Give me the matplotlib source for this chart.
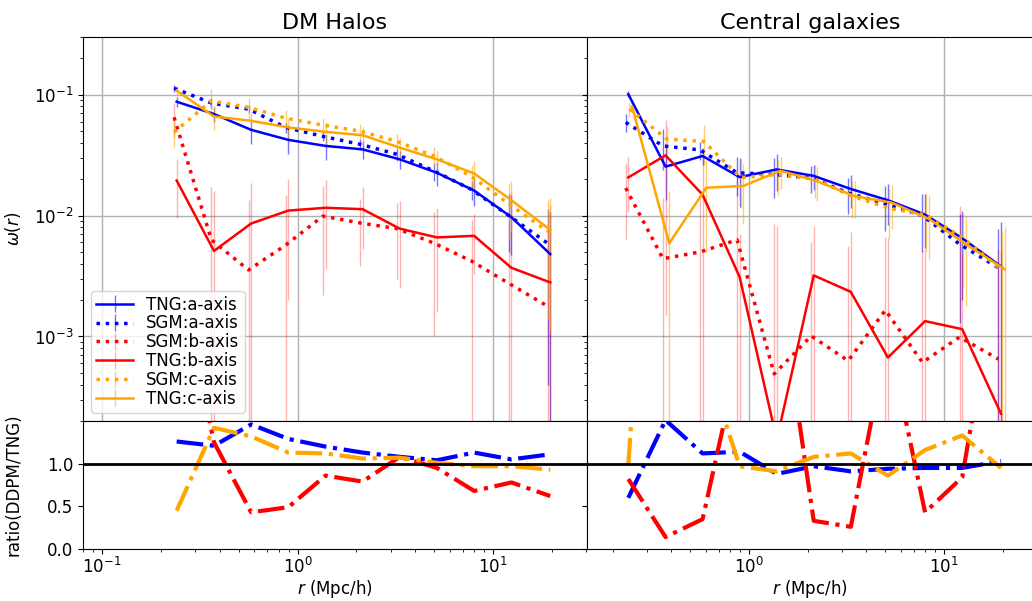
import matplotlib.pyplot as plt
from matplotlib.colors import to_rgba
import numpy as np

plt.rcParams.update({"font.size": 12})

# radial bins (Mpc/h), same for both samples
r = np.array([0.241, 0.374, 0.579, 0.897, 1.39, 2.15, 3.33, 5.16, 8.0, 12.4, 19.6])

# ---- DM halos ----
halo_tng_a = [0.0875, 0.0692, 0.0512, 0.0423, 0.0377, 0.0353, 0.0292, 0.0226, 0.0161, 0.0097, 0.0048]
halo_tng_a_err = [0.008, 0.010, 0.012, 0.010, 0.009, 0.006, 0.005, 0.005, 0.004, 0.005, 0.006]
halo_sgm_a = [0.113, 0.0853, 0.076, 0.0536, 0.0452, 0.0389, 0.0321, 0.0233, 0.0164, 0.0100, 0.0059]
halo_sgm_a_err = [0.008, 0.008, 0.006, 0.005, 0.004, 0.004, 0.004, 0.004, 0.003, 0.005, 0.0055]
halo_sgm_b = [0.065, 0.0063, 0.00355, 0.0057, 0.0099, 0.0087, 0.0078, 0.0059, 0.0042, 0.00275, 0.00178]
halo_sgm_b_err = [0.02, 0.011, 0.010, 0.009, 0.0077, 0.0049, 0.0048, 0.0049, 0.005, 0.006, 0.006]
halo_tng_b = [0.0195, 0.0051, 0.0086, 0.011, 0.0116, 0.0113, 0.0078, 0.0066, 0.0068, 0.0037, 0.0028]
halo_tng_b_err = [0.010, 0.011, 0.010, 0.009, 0.008, 0.006, 0.0053, 0.005, 0.0035, 0.012, 0.0095]
halo_sgm_c = [0.049, 0.089, 0.0785, 0.064, 0.056, 0.050, 0.041, 0.031, 0.021, 0.0125, 0.0074]
halo_sgm_c_err = [0.012, 0.022, 0.015, 0.010, 0.008, 0.007, 0.006, 0.006, 0.005, 0.006, 0.006]
halo_tng_c = [0.108, 0.066, 0.0608, 0.0536, 0.0493, 0.0462, 0.0365, 0.0292, 0.0223, 0.0134, 0.0076]
halo_tng_c_err = [0.010, 0.015, 0.010, 0.010, 0.010, 0.008, 0.007, 0.006, 0.006, 0.006, 0.0065]

halo_ratio_a = [1.26, 1.21, 1.46, 1.29, 1.20, 1.13, 1.08, 1.04, 1.13, 1.05, 1.11]
halo_ratio_b = [3.3, 1.25, 0.43, 0.49, 0.86, 0.79, 1.08, 0.95, 0.68, 0.78, 0.62]
halo_ratio_c = [0.45, 1.42, 1.32, 1.13, 1.12, 1.06, 1.07, 1.01, 0.97, 0.97, 0.93]

# ---- central galaxies ----
gal_tng_a = [0.101, 0.0254, 0.0311, 0.0208, 0.0241, 0.0213, 0.0166, 0.0134, 0.0102, 0.0065, 0.0038]
gal_tng_a_err = [0.006, 0.012, 0.005, 0.009, 0.008, 0.005, 0.005, 0.005, 0.0048, 0.0045, 0.005]
gal_sgm_a = [0.059, 0.0377, 0.0349, 0.0226, 0.0219, 0.0205, 0.0154, 0.0125, 0.0100, 0.0058, 0.0037]
gal_sgm_a_err = [0.010, 0.014, 0.006, 0.008, 0.008, 0.005, 0.005, 0.005, 0.005, 0.0045, 0.004]
gal_sgm_b = [0.0169, 0.0044, 0.0050, 0.0063, 0.00049, 0.00101, 0.00063, 0.00165, 0.00061, 0.00099, 0.00065]
gal_sgm_b_err = [0.0105, 0.0097, 0.010, 0.015, 0.008, 0.005, 0.005, 0.005, 0.0046, 0.011, 0.0045]
gal_tng_b = [0.0207, 0.0315, 0.0149, 0.0031, 0.00014, 0.0032, 0.00234, 0.00067, 0.00134, 0.00115, 0.00023]
gal_tng_b_err = [0.010, 0.030, 0.016, 0.004, 0.008, 0.005, 0.005, 0.006, 0.004, 0.0038, 0.0048]
gal_sgm_c = [0.076, 0.043, 0.041, 0.0206, 0.0219, 0.020, 0.0145, 0.0115, 0.0101, 0.0065, 0.0035]
gal_sgm_c_err = [0.010, 0.012, 0.015, 0.009, 0.007, 0.006, 0.005, 0.005, 0.005, 0.004, 0.004]
gal_tng_c = [0.080, 0.0059, 0.017, 0.0176, 0.0235, 0.0192, 0.0145, 0.0128, 0.0094, 0.0058, 0.0036]
gal_tng_c_err = [0.010, 0.010, 0.012, 0.009, 0.007, 0.006, 0.005, 0.005, 0.005, 0.004, 0.0045]

gal_ratio_a = [0.60, 1.51, 1.12, 1.14, 0.88, 0.97, 0.91, 0.94, 0.95, 0.95, 1.03]
gal_ratio_b = [0.82, 0.14, 0.35, 2.3, 3.3, 0.33, 0.26, 2.5, 0.43, 0.84, 3.5]
gal_ratio_c = [0.99, 7.3, 2.3, 0.97, 0.91, 1.08, 1.12, 0.86, 1.16, 1.33, 0.95]

W, H = 1032, 601
fig = plt.figure(figsize=(W / 100, H / 100), dpi=100)


def box(x0, y0, x1, y1):
    return [x0 / W, 1 - y1 / H, (x1 - x0) / W, (y1 - y0) / H]


ax_h = fig.add_axes(box(83, 37, 587, 421))
ax_hr = fig.add_axes(box(83, 421, 587, 549))
ax_g = fig.add_axes(box(587, 37, 1033, 421))
ax_gr = fig.add_axes(box(587, 421, 1033, 549))


def draw_top(ax, series, c_shift):
    for label, x, y, err, color, ls in series:
        if label.endswith("c-axis"):
            x = x * c_shift
        alpha = 0.3 if color == "red" else 0.55
        eb = ax.errorbar(x, y, yerr=err, color=color, ls=ls,
                         lw=2.5 if ls == ":" else 1.8,
                         ecolor=to_rgba(color, alpha), elinewidth=1, label=label)
        for col in eb[2]:
            col.set_linestyle("-")
    ax.set_xscale("log")
    ax.set_yscale("log")
    ax.set_ylim(2.0e-4, 0.30)
    ax.grid(True, which="major", color="#b0b0b0", lw=1)
    ax.tick_params(labelbottom=False)


rs = r * 0.97
halo_series = [
    ("TNG:a-axis", r, halo_tng_a, halo_tng_a_err, "blue", "-"),
    ("SGM:a-axis", rs, halo_sgm_a, halo_sgm_a_err, "blue", ":"),
    ("SGM:b-axis", rs, halo_sgm_b, halo_sgm_b_err, "red", ":"),
    ("TNG:b-axis", r, halo_tng_b, halo_tng_b_err, "red", "-"),
    ("SGM:c-axis", rs, halo_sgm_c, halo_sgm_c_err, "orange", ":"),
    ("TNG:c-axis", r, halo_tng_c, halo_tng_c_err, "orange", "-"),
]
gal_series = [
    ("TNG:a-axis", r, gal_tng_a, gal_tng_a_err, "blue", "-"),
    ("SGM:a-axis", rs, gal_sgm_a, gal_sgm_a_err, "blue", ":"),
    ("SGM:b-axis", rs, gal_sgm_b, gal_sgm_b_err, "red", ":"),
    ("TNG:b-axis", r, gal_tng_b, gal_tng_b_err, "red", "-"),
    ("SGM:c-axis", rs, gal_sgm_c, gal_sgm_c_err, "orange", ":"),
    ("TNG:c-axis", r, gal_tng_c, gal_tng_c_err, "orange", "-"),
]

draw_top(ax_h, halo_series, 1.0)
draw_top(ax_g, gal_series, 1.045)
ax_h.set_xlim(0.080, 30.2)
ax_g.set_xlim(0.148, 28.6)
ax_g.tick_params(labelleft=False)
ax_h.set_ylabel(r"$\omega(r)$")
ax_h.set_title("DM Halos", fontsize=16)
ax_g.set_title("Central galaxies", fontsize=16)
ax_h.legend(loc="lower left", fontsize=12, handlelength=2.2,
            borderpad=0.3, labelspacing=0.05, handletextpad=0.8)


def draw_ratio(ax, ra, rb, rc):
    ax.plot(r, ra, color="blue", ls="-.", lw=3)
    ax.plot(r, rb, color="red", ls="-.", lw=3)
    ax.plot(r, rc, color="orange", ls="-.", lw=3)
    ax.axhline(1.0, color="black", lw=2)
    ax.set_xscale("log")
    ax.set_ylim(0, 1.5)
    ax.set_yticks([0.0, 0.5, 1.0])
    ax.tick_params(axis="x", which="both", pad=2)
    ax.set_xlabel(r"$r$ (Mpc/h)", labelpad=1)


draw_ratio(ax_hr, halo_ratio_a, halo_ratio_b, halo_ratio_c)
draw_ratio(ax_gr, gal_ratio_a, gal_ratio_b, gal_ratio_c)
ax_hr.set_xlim(0.080, 30.2)
ax_gr.set_xlim(0.148, 28.6)
ax_gr.tick_params(labelleft=False)
ax_hr.set_ylabel("ratio(DDPM/TNG)")
ax_h.yaxis.set_label_coords(-0.12, 0.5)
ax_hr.yaxis.set_label_coords(-0.12, 0.5)

fig.savefig("out.png", dpi=100)
